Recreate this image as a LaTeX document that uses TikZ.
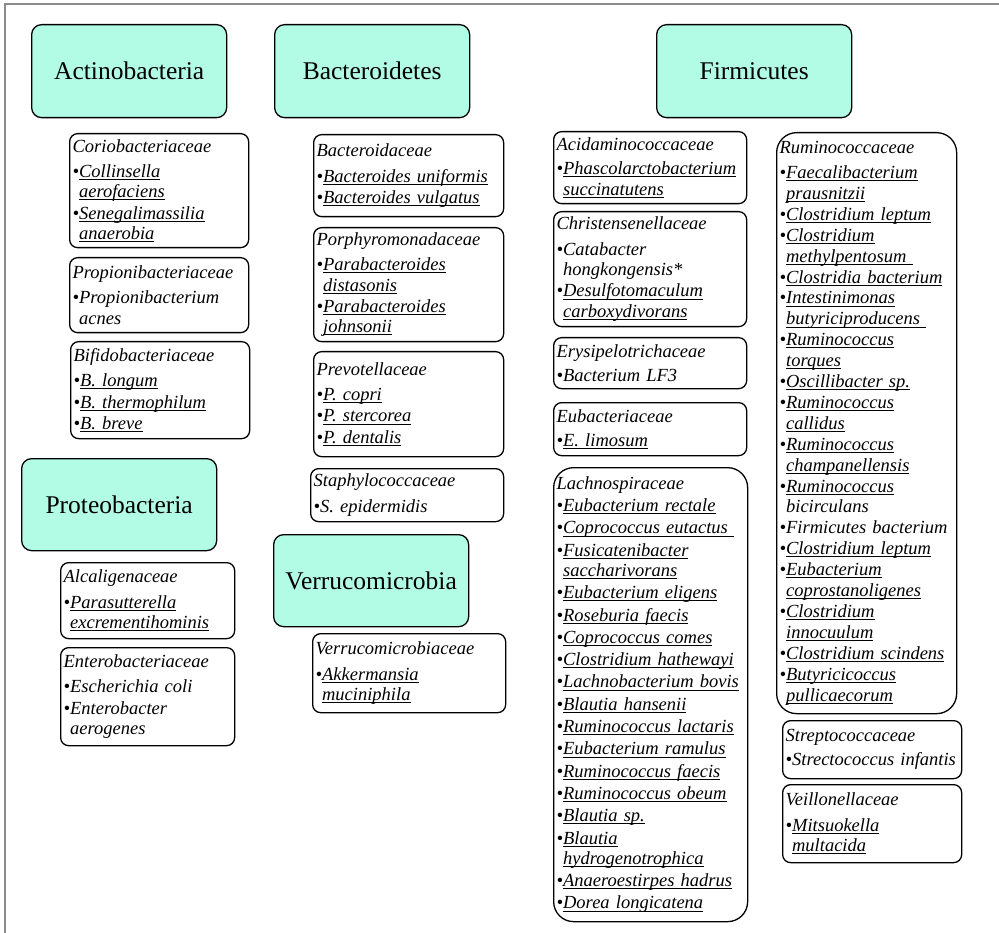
\documentclass[tikz,border=0pt]{standalone}
\usepackage{fontspec}
\setmainfont{Liberation Serif}
\usepackage{tikz}
\usetikzlibrary{positioning}

\definecolor{phylumfill}{HTML}{B2FCE5}
\definecolor{framegray}{HTML}{8C8C8C}

% underline through the descenders, as a word processor does
\newsavebox{\ulbox}
\newcommand{\ulw}[1]{\sbox\ulbox{#1}\rlap{\rule[-2.6pt]{\wd\ulbox}{0.9pt}}\usebox\ulbox}
% bullet entries: underlined / plain, and their continuation lines
\newcommand{\bul}[1]{\textbullet\ulw{#1}}
\newcommand{\bulp}[1]{\textbullet#1}
\newcommand{\nxt}[1]{\phantom{\textbullet}\ulw{#1}}
\newcommand{\nxtp}[1]{\phantom{\textbullet}#1}
\newcommand{\famfont}{\itshape\fontsize{18.5}{20.3}\selectfont\setlength{\lineskiplimit}{-20pt}}
\newcommand{\longfont}{\itshape\fontsize{18.5}{20.9}\selectfont\setlength{\lineskiplimit}{-20pt}}

\begin{document}
\begin{tikzpicture}[
    x=1pt, y=-1pt,
    phylum/.style={rectangle, rounded corners=10pt, draw=black, line width=1.3pt, fill=phylumfill,
        anchor=north west, minimum width=195pt, minimum height=93pt, font=\fontsize{25.5}{29}\selectfont},
    fam/.style={rectangle, rounded corners=8pt, draw=black, line width=1.3pt, anchor=north west,
        align=left, inner xsep=3pt, inner ysep=2pt, font=\famfont},
    bigfam/.style={fam, rounded corners=20pt}
]
\useasboundingbox (0,0) rectangle (999,933);

% frame
\draw[framegray, line width=2pt] (5,933) -- (5,4.5) -- (999,4.5);

% Phyla
\node (actino) [phylum] at (31,24) {Actinobacteria};
\node (bactero) [phylum] at (274,24) {Bacteroidetes};
\node (firmi) [phylum] at (656,24) {Firmicutes};
\node (proteo) [phylum, minimum height=92pt] at (21,458) {Proteobacteria};
\node (verruco) [phylum, minimum height=92pt] at (273,534) {Verrucomicrobia};

% Actinobacteria families
\node (corio) [fam, minimum width=179pt, text width=173pt, minimum height=114pt] at (69,133)
    {Coriobacteriaceae\\[5pt]\bul{Collinsella}\\\nxt{aerofaciens}\\[1pt]\bul{Senegalimassilia}\\\nxt{anaerobia}};
\node (propioni) [fam, minimum width=179pt, text width=173pt, minimum height=75pt] at (69,257)
    {Propionibacteriaceae\\[5pt]\bulp{Propionibacterium}\\\nxtp{acnes}};
\node (bifido) [fam, minimum width=179pt, text width=173pt, minimum height=97pt] at (70,341)
    {Bifidobacteriaceae\\[5pt]\bul{B. longum}\\[1pt]\bul{B. thermophilum}\\[1pt]\bul{B. breve}};

% Proteobacteria families
\node (alcali) [fam, minimum width=174pt, text width=168pt, minimum height=76pt] at (60,562)
    {Alcaligenaceae\\[5pt]\bul{Parasutterella}\\\nxt{excrementihominis}};
\node (entero) [fam, minimum width=174pt, text width=168pt, minimum height=98pt] at (60,647)
    {Enterobacteriaceae\\[5pt]\bulp{Escherichia coli}\\[1pt]\bulp{Enterobacter}\\\nxtp{aerogenes}};

% Bacteroidetes families
\node (bacteroid) [fam, minimum width=190pt, text width=184pt, minimum height=82pt] at (313,134)
    {Bacteroidaceae\\[5pt]\bul{Bacteroides uniformis}\\[1pt]\bul{Bacteroides vulgatus}};
\node (porphyro) [fam, minimum width=190pt, text width=184pt, minimum height=114pt] at (313,227)
    {Porphyromonadaceae\\[5pt]\bul{Parabacteroides}\\\nxt{distasonis}\\[1pt]\bul{Parabacteroides}\\\nxt{johnsonii}};
\node (prevo) [fam, minimum width=190pt, text width=184pt, minimum height=105pt] at (313,351)
    {Prevotellaceae\\[5pt]\bul{P. copri}\\[1pt]\bul{P. stercorea}\\[1pt]\bul{P. dentalis}};
\node (staphylo) [fam, minimum width=193pt, text width=187pt, minimum height=53pt] at (310,468)
    {Staphylococcaceae\\[5pt]\bulp{S. epidermidis}};

% Verrucomicrobia family
\node (verrucofam) [fam, minimum width=193pt, text width=187pt, minimum height=79pt] at (312,633)
    {Verrucomicrobiaceae\\[5pt]\bul{Akkermansia}\\\nxt{muciniphila}};

% Firmicutes families, left column
\node (acidamino) [fam, minimum width=193pt, text width=187pt, minimum height=72pt] at (553,131)
    {Acidaminococcaceae\\[4pt]\bul{Phascolarctobacterium}\\\nxt{succinatutens}};
\node (christ) [fam, minimum width=193pt, text width=187pt, minimum height=115pt] at (553,211)
    {Christensenellaceae\\[5pt]\bulp{Catabacter}\\\nxtp{hongkongensis*}\\[1pt]\bul{Desulfotomaculum}\\\nxt{carboxydivorans}};
\node (erysipelo) [fam, minimum width=193pt, text width=187pt, minimum height=51pt] at (553,337)
    {Erysipelotrichaceae\\[4pt]\bulp{Bacterium LF3}};
\node (eubact) [fam, minimum width=193pt, text width=187pt, minimum height=53pt] at (553,402)
    {Eubacteriaceae\\[4pt]\bul{E. limosum}};
\node (lachno) [bigfam, minimum width=194pt, text width=188pt, minimum height=454pt] at (553,467)
    {Lachnospiraceae\\[2pt]\bul{Eubacterium rectale}\\[2pt]\bul{Coprococcus eutactus }\\[2pt]%
     \bul{Fusicatenibacter}\\\nxt{saccharivorans}\\[2pt]\bul{Eubacterium eligens}\\[2pt]%
     \bul{Roseburia faecis}\\[2pt]\bul{Coprococcus comes}\\[2pt]\bul{Clostridium hathewayi}\\[2pt]%
     \bul{Lachnobacterium bovis}\\[2pt]\bul{Blautia hansenii}\\[2pt]\bul{Ruminococcus lactaris}\\[2pt]%
     \bul{Eubacterium ramulus}\\[2pt]\bul{Ruminococcus faecis}\\[2pt]\bul{Ruminococcus obeum}\\[2pt]%
     \bul{Blautia sp.}\\[2pt]\bul{Blautia}\\\nxt{hydrogenotrophica}\\[2pt]%
     \bul{Anaeroestirpes hadrus}\\[2pt]\bul{Dorea longicatena}};

% Firmicutes families, right column
\node (rumino) [bigfam, font=\longfont, minimum width=180pt, text width=174pt, minimum height=581pt] at (776,132)
    {Ruminococcaceae\\[4pt]\bul{Faecalibacterium}\\\nxt{prausnitzii}\\\bul{Clostridium leptum}\\%
     \bul{Clostridium}\\\nxt{methylpentosum }\\\bul{Clostridia bacterium}\\%
     \bul{Intestinimonas}\\\nxt{butyriciproducens }\\\bul{Ruminococcus}\\\nxt{torques}\\%
     \bul{Oscillibacter sp.}\\\bul{Ruminococcus}\\\nxt{callidus}\\%
     \bul{Ruminococcus}\\\nxt{champanellensis}\\\bul{Ruminococcus}\\\nxtp{bicirculans}\\%
     \bulp{Firmicutes bacterium}\\\bul{Clostridium leptum}\\%
     \bul{Eubacterium}\\\nxt{coprostanoligenes}\\\bul{Clostridium}\\\nxt{innocuulum}\\%
     \bul{Clostridium scindens}\\\bul{Butyricicoccus}\\\nxt{pullicaecorum}};
\node (strepto) [fam, minimum width=179pt, text width=173pt, minimum height=58pt] at (782,720)
    {Streptococcaceae\\[4pt]\bulp{Strectococcus infantis}};
\node (veillo) [fam, minimum width=179pt, text width=173pt, minimum height=78pt] at (782,784)
    {Veillonellaceae\\[5pt]\bul{Mitsuokella}\\\nxt{multacida}};

\end{tikzpicture}
\end{document}
